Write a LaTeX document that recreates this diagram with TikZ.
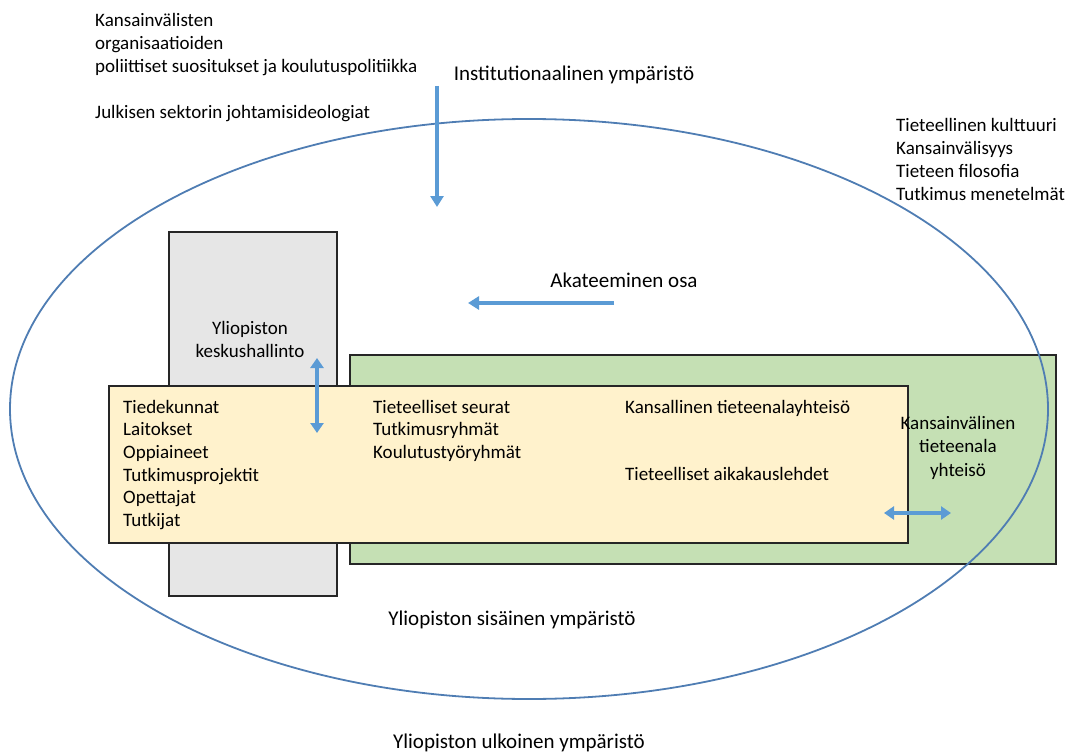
\documentclass[tikz,border=0pt]{standalone}
\usepackage{fontspec}
\setmainfont{Carlito}
\usetikzlibrary{arrows.meta,shapes.geometric}
\definecolor{ellc}{HTML}{4F7DB3}
\definecolor{arrc}{HTML}{5B9BD5}
\definecolor{grayf}{HTML}{E6E6E6}
\definecolor{yellf}{HTML}{FFF2CC}
\definecolor{greenf}{HTML}{C5E0B4}
\definecolor{boxd}{HTML}{262626}
\tikzset{
  box/.style={draw=boxd,line width=2pt},
  txt/.style={inner sep=0pt,font=\fontsize{19}{23}\selectfont,align=left,anchor=base west},
  bigtxt/.style={inner sep=0pt,font=\fontsize{21}{25}\selectfont,anchor=base},
  flow/.style={draw=arrc,line width=3.5pt,-{Triangle[width=13pt,length=11pt]}},
  dflow/.style={draw=arrc,line width=3.5pt,{Triangle[width=13pt,length=10pt]}-{Triangle[width=13pt,length=10pt]}},
}
\begin{document}
\begin{tikzpicture}[x=1pt,y=-1pt]
\useasboundingbox (0,0) rectangle (1074,752);
% boxes
\node[box,fill=grayf,minimum width=168pt,minimum height=364pt,anchor=north west,inner sep=0pt] (central) at (168,231) {};
\node[box,fill=greenf,minimum width=706pt,minimum height=209pt,anchor=north west,inner sep=0pt] (intl) at (349,354) {};
\node[box,fill=yellf,minimum width=799pt,minimum height=157pt,anchor=north west,inner sep=0pt] (local) at (108,385) {};
% ellipse
\node[draw=ellc,line width=1.8pt,ellipse,minimum width=1038pt,minimum height=580pt,inner sep=0pt] (env) at (529,409) {};
% texts (multi-line nodes: base = last line's baseline)
\node[txt] (intlorg) at (95,73) {Kansainvälisten\\organisaatioiden\\poliittiset suositukset ja koulutuspolitiikka};
\node[txt] (julk) at (95,118) {Julkisen sektorin johtamisideologiat};
\node[bigtxt] (inst) at (574,81) {Institutionaalinen ympäristö};
\node[txt] (culture) at (896,200) {Tieteellinen kulttuuri\\Kansainvälisyys\\Tieteen filosofia\\Tutkimus menetelmät};
\node[bigtxt] (akat) at (624,287) {Akateeminen osa};
\node[txt,align=center,anchor=base] (keskus) at (250,357) {Yliopiston\\keskushallinto};
\node[txt,font=\fontsize{19}{22.7}\selectfont] (col1) at (123,526.5) {Tiedekunnat\\Laitokset\\Oppiaineet\\Tutkimusprojektit\\Opettajat\\Tutkijat};
\node[txt,font=\fontsize{19}{22.7}\selectfont] (col2) at (373,458.4) {Tieteelliset seurat\\Tutkimusryhmät\\Koulutustyöryhmät};
\node[txt] (nat) at (625,413) {Kansallinen tieteenalayhteisö};
\node[txt] (lehd) at (625,480) {Tieteelliset aikakauslehdet};
\node[txt,align=center,anchor=base,font=\fontsize{19}{23.5}\selectfont] (kv) at (958,476) {Kansainvälinen\\tieteenala\\yhteisö};
\node[bigtxt] (sis) at (512,625) {Yliopiston sisäinen ympäristö};
\node[bigtxt] (ulk) at (519,748) {Yliopiston ulkoinen ympäristö};
% arrows
\coordinate (a1s) at (437,86);
\coordinate (a1e) at (437,207);
\draw[flow] (a1s) -- (a1e);
\coordinate (a2s) at (614,303);
\coordinate (a2e) at (468,303);
\draw[flow] (a2s) -- (a2e);
\coordinate (a3s) at (317,358);
\coordinate (a3e) at (317,433);
\draw[dflow] (a3s) -- (a3e);
\coordinate (a4s) at (884,513);
\coordinate (a4e) at (951,513);
\draw[dflow] (a4s) -- (a4e);
\end{tikzpicture}
\end{document}
